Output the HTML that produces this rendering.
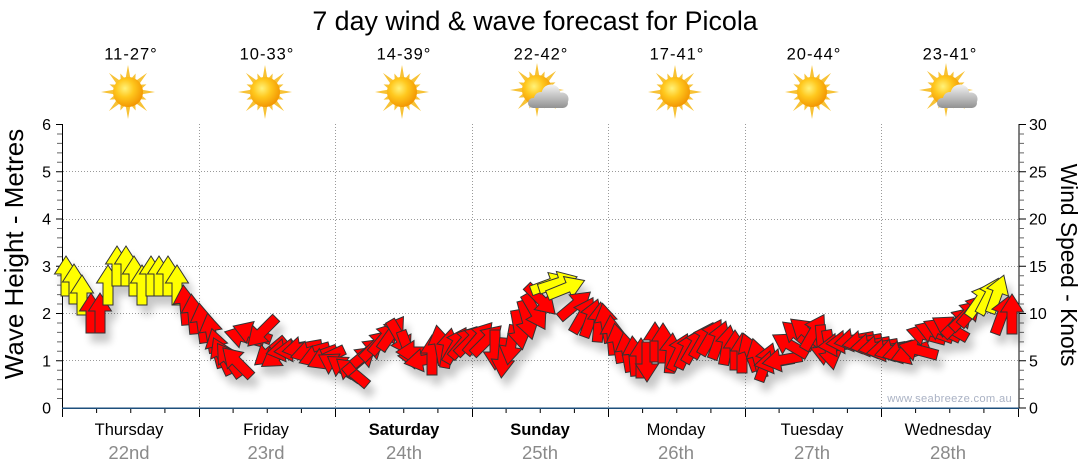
<!DOCTYPE html>
<html><head><meta charset="utf-8"><style>
body{margin:0;background:#fff}
svg{display:block}
text{font-family:"Liberation Sans",sans-serif}
.r{fill:#ff0000}.y{fill:#ffff00}
</style></head><body>
<svg width="1080" height="475" viewBox="0 0 1080 475" xmlns="http://www.w3.org/2000/svg">
<defs>
<radialGradient id="sg" cx="0.4" cy="0.38" r="0.65"><stop offset="0" stop-color="#fff27a"/><stop offset="0.45" stop-color="#ffc81e"/><stop offset="1" stop-color="#f29400"/></radialGradient>
<linearGradient id="cg" gradientUnits="userSpaceOnUse" x1="0" y1="-6" x2="0" y2="19"><stop offset="0" stop-color="#f6f6f6"/><stop offset="1" stop-color="#8e8e8e"/></linearGradient>
<g id="sun"><polygon fill="#f7c236" points="0,-27 2.54,-12.75 7.65,-18.48 7.22,-10.81 19.09,-19.09 10.81,-7.22 18.48,-7.65 12.75,-2.54 27,0 12.75,2.54 18.48,7.65 10.81,7.22 19.09,19.09 7.22,10.81 7.65,18.48 2.54,12.75 0,27 -2.54,12.75 -7.65,18.48 -7.22,10.81 -19.09,19.09 -10.81,7.22 -18.48,7.65 -12.75,2.54 -27,0 -12.75,-2.54 -18.48,-7.65 -10.81,-7.22 -19.09,-19.09 -7.22,-10.81 -7.65,-18.48 -2.54,-12.75"/><circle r="15" fill="url(#sg)"/></g>
<g id="cloud" fill="url(#cg)"><rect x="-9" y="8" width="40" height="10" rx="5"/><circle cx="4" cy="9" r="7"/><circle cx="14" cy="4" r="9.5"/><circle cx="25" cy="9" r="6.5"/></g>
<polygon id="a" points="0,-20 11.5,-2 5,-2 5,20 -5,20 -5,-2 -11.5,-2"/>
<filter id="sh" x="-5%" y="-20%" width="115%" height="170%">
<feGaussianBlur in="SourceAlpha" stdDeviation="4"/>
<feOffset dx="5" dy="9"/>
<feComponentTransfer><feFuncA type="linear" slope="0.22"/></feComponentTransfer>
<feMerge><feMergeNode/><feMergeNode in="SourceGraphic"/></feMerge>
</filter>
</defs>

<!-- title -->
<text x="535" y="30" font-size="26.8" text-anchor="middle" fill="#000">7 day wind &amp; wave forecast for Picola</text>

<!-- temps -->
<g font-size="16.5" text-anchor="middle" fill="#000" letter-spacing="1">
<text x="131" y="59.5">11-27°</text>
<text x="267" y="59.5">10-33°</text>
<text x="404" y="59.5">14-39°</text>
<text x="541" y="59.5">22-42°</text>
<text x="677" y="59.5">17-41°</text>
<text x="814" y="59.5">20-44°</text>
<text x="950" y="59.5">23-41°</text>
</g>

<!-- icons -->
<use href="#sun" transform="translate(128,92)"/>
<use href="#sun" transform="translate(265,92)"/>
<use href="#sun" transform="translate(402,92)"/>
<use href="#sun" transform="translate(537,90)"/>
<use href="#cloud" transform="translate(537,90)"/>
<use href="#sun" transform="translate(675,92)"/>
<use href="#sun" transform="translate(812,92)"/>
<use href="#sun" transform="translate(946,90)"/>
<use href="#cloud" transform="translate(946,90)"/>

<!-- grid -->
<g stroke="#9a9a9a" stroke-width="1" stroke-dasharray="1,2" fill="none">
<path d="M63 360.5H1019M63 313.5H1019M63 266.5H1019M63 219.5H1019M63 171.5H1019"/>
<path d="M199.5 124V408M335.5 124V408M472.5 124V408M608.5 124V408M745.5 124V408M881.5 124V408"/>
</g>

<!-- axes -->
<g stroke="#000" stroke-width="1" fill="none">
<path d="M62.5 124V417M1019 124V408"/>
<path d="M56 124.5H63M56 171.75H63M56 219H63M56 266.25H63M56 313.5H63M56 360.75H63M1019 124.5H1026M1019 171.75H1026M1019 219H1026M1019 266.25H1026M1019 313.5H1026M1019 360.75H1026M1019 408H1026"/>
</g>
<g stroke="#666" stroke-width="1" fill="none">
<path d="M57 398.55H62M57 389.1H62M57 379.65H62M57 370.2H62M57 351.3H62M57 341.85H62M57 332.4H62M57 322.95H62M57 304.05H62M57 294.6H62M57 285.15H62M57 275.7H62M57 256.8H62M57 247.35H62M57 237.9H62M57 228.45H62M57 209.55H62M57 200.1H62M57 190.65H62M57 181.2H62M57 162.3H62M57 152.85H62M57 143.4H62M57 133.95H62"/>
<path d="M1019 398.55H1024M1019 389.1H1024M1019 379.65H1024M1019 370.2H1024M1019 351.3H1024M1019 341.85H1024M1019 332.4H1024M1019 322.95H1024M1019 304.05H1024M1019 294.6H1024M1019 285.15H1024M1019 275.7H1024M1019 256.8H1024M1019 247.35H1024M1019 237.9H1024M1019 228.45H1024M1019 209.55H1024M1019 200.1H1024M1019 190.65H1024M1019 181.2H1024M1019 162.3H1024M1019 152.85H1024M1019 143.4H1024M1019 133.95H1024"/>
</g>
<g stroke="#000" stroke-width="1" fill="none">
<path d="M199.5 408V417M335.5 408V417M472.5 408V417M608.5 408V417M745.5 408V417M881.5 408V417M1018.5 408V417"/>
<path d="M96.6 408V413M130.75 408V413M164.9 408V413M233.1 408V413M267.25 408V413M301.4 408V413M369.6 408V413M403.75 408V413M437.9 408V413M506.1 408V413M540.25 408V413M574.4 408V413M642.6 408V413M676.75 408V413M710.9 408V413M779.1 408V413M813.25 408V413M847.4 408V413M915.6 408V413M949.75 408V413M983.9 408V413"/>
</g>
<path d="M62 408.25H1019" stroke="#1d4f7c" stroke-width="1.5"/>

<!-- axis labels -->
<g font-size="16" fill="#000" text-anchor="end">
<text x="51" y="130">6</text><text x="51" y="177.5">5</text><text x="51" y="224.5">4</text><text x="51" y="272">3</text><text x="51" y="319">2</text><text x="51" y="366.5">1</text><text x="51" y="413.5">0</text>
</g>
<g font-size="16" fill="#000">
<text x="1029" y="130">30</text><text x="1029" y="177.5">25</text><text x="1029" y="224.5">20</text><text x="1029" y="272">15</text><text x="1029" y="319">10</text><text x="1029" y="366.5">5</text><text x="1029" y="413.5">0</text>
</g>
<text transform="translate(23,254) rotate(-90)" font-size="26" text-anchor="middle" fill="#000">Wave Height - Metres</text>
<text transform="translate(1061,265) rotate(90)" font-size="22.8" text-anchor="middle" fill="#000">Wind Speed - Knots</text>

<!-- day labels -->
<g font-size="16.5" text-anchor="middle" fill="#000">
<text x="129" y="435">Thursday</text>
<text x="266" y="435">Friday</text>
<text x="404" y="435" font-weight="bold">Saturday</text>
<text x="540" y="435" font-weight="bold">Sunday</text>
<text x="676" y="435">Monday</text>
<text x="812" y="435">Tuesday</text>
<text x="948" y="435">Wednesday</text>
</g>
<g font-size="18.5" text-anchor="middle" fill="#8a8a8a">
<text x="129" y="459">22nd</text>
<text x="266" y="459">23rd</text>
<text x="404" y="459">24th</text>
<text x="540" y="459">25th</text>
<text x="676" y="459">26th</text>
<text x="812" y="459">27th</text>
<text x="948" y="459">28th</text>
</g>

<text x="1012" y="402" font-size="11.2" text-anchor="end" fill="#aab2c4" letter-spacing="0.3">www.seabreeze.com.au</text>

<!-- arrows -->
<g filter="url(#sh)" stroke="#333" stroke-width="1">
<use href="#a" class="y" transform="translate(66,276)"/>
<use href="#a" class="y" transform="translate(74,284)"/>
<use href="#a" class="y" transform="translate(82,295)"/>
<use href="#a" class="r" transform="translate(91,313)"/>
<use href="#a" class="r" transform="translate(100,313)"/>
<use href="#a" class="y" transform="translate(108,285)"/>
<use href="#a" class="y" transform="translate(117,266)"/>
<use href="#a" class="y" transform="translate(126,266)"/>
<use href="#a" class="y" transform="translate(134,276)"/>
<use href="#a" class="y" transform="translate(142,285)"/>
<use href="#a" class="y" transform="translate(151,276)"/>
<use href="#a" class="y" transform="translate(159,276)"/>
<use href="#a" class="y" transform="translate(168,276)"/>
<use href="#a" class="y" transform="translate(177,285)"/>
<use href="#a" class="r" transform="translate(185,305) rotate(-5)"/>
<use href="#a" class="r" transform="translate(193,314) rotate(-5)"/>
<use href="#a" class="r" transform="translate(202,323) rotate(-8)"/>
<use href="#a" class="r" transform="translate(211,333) rotate(-10)"/>
<use href="#a" class="r" transform="translate(217,348) rotate(-15)"/>
<use href="#a" class="r" transform="translate(222,356) rotate(-25)"/>
<use href="#a" class="r" transform="translate(229,360) rotate(-35)"/>
<use href="#a" class="r" transform="translate(237,362) rotate(-45)"/>
<use href="#a" class="r" transform="translate(244,337) rotate(-75)"/>
<use href="#a" class="r" transform="translate(252,333) rotate(-70)"/>
<use href="#a" class="r" transform="translate(262,332) rotate(-135)"/>
<use href="#a" class="r" transform="translate(270,352) rotate(-130)"/>
<use href="#a" class="r" transform="translate(278,355) rotate(-125)"/>
<use href="#a" class="r" transform="translate(286,350) rotate(-100)"/>
<use href="#a" class="r" transform="translate(294,350) rotate(-95)"/>
<use href="#a" class="r" transform="translate(302,348) rotate(-100)"/>
<use href="#a" class="r" transform="translate(310,352) rotate(-105)"/>
<use href="#a" class="r" transform="translate(318,356) rotate(-110)"/>
<use href="#a" class="r" transform="translate(326,358) rotate(-115)"/>
<use href="#a" class="r" transform="translate(336,365) rotate(-60)"/>
<use href="#a" class="r" transform="translate(344,368) rotate(-55)"/>
<use href="#a" class="r" transform="translate(352,372) rotate(-50)"/>
<use href="#a" class="r" transform="translate(360,360) rotate(50)"/>
<use href="#a" class="r" transform="translate(368,352) rotate(50)"/>
<use href="#a" class="r" transform="translate(376,345) rotate(45)"/>
<use href="#a" class="r" transform="translate(384,338) rotate(40)"/>
<use href="#a" class="r" transform="translate(392,333) rotate(35)"/>
<use href="#a" class="r" transform="translate(400,338) rotate(150)"/>
<use href="#a" class="r" transform="translate(408,350) rotate(160)"/>
<use href="#a" class="r" transform="translate(416,352) rotate(-90)"/>
<use href="#a" class="r" transform="translate(424,360) rotate(-100)"/>
<use href="#a" class="r" transform="translate(432,355)"/>
<use href="#a" class="r" transform="translate(440,345) rotate(-10)"/>
<use href="#a" class="r" transform="translate(448,348) rotate(10)"/>
<use href="#a" class="r" transform="translate(456,345) rotate(30)"/>
<use href="#a" class="r" transform="translate(464,342) rotate(40)"/>
<use href="#a" class="r" transform="translate(471,340) rotate(45)"/>
<use href="#a" class="r" transform="translate(479,338) rotate(40)"/>
<use href="#a" class="r" transform="translate(487,340) rotate(45)"/>
<use href="#a" class="r" transform="translate(495,350) rotate(180)"/>
<use href="#a" class="r" transform="translate(503,358) rotate(185)"/>
<use href="#a" class="r" transform="translate(511,345) rotate(190)"/>
<use href="#a" class="r" transform="translate(519,330) rotate(170)"/>
<use href="#a" class="r" transform="translate(527,320) rotate(165)"/>
<use href="#a" class="r" transform="translate(535,312) rotate(150)"/>
<use href="#a" class="r" transform="translate(541,300) rotate(135)"/>
<use href="#a" class="y" transform="translate(550,284) rotate(70)"/>
<use href="#a" class="y" transform="translate(558,283) rotate(72)"/>
<use href="#a" class="y" transform="translate(566,288) rotate(68)"/>
<use href="#a" class="r" transform="translate(575,305) rotate(50)"/>
<use href="#a" class="r" transform="translate(583,315) rotate(30)"/>
<use href="#a" class="r" transform="translate(591,318) rotate(20)"/>
<use href="#a" class="r" transform="translate(599,322) rotate(5)"/>
<use href="#a" class="r" transform="translate(606,323) rotate(-10)"/>
<use href="#a" class="r" transform="translate(612,335) rotate(-5)"/>
<use href="#a" class="r" transform="translate(618,343) rotate(-10)"/>
<use href="#a" class="r" transform="translate(627,352) rotate(-10)"/>
<use href="#a" class="r" transform="translate(634,356) rotate(-5)"/>
<use href="#a" class="r" transform="translate(641,358)"/>
<use href="#a" class="r" transform="translate(647,362) rotate(180)"/>
<use href="#a" class="r" transform="translate(655,342)"/>
<use href="#a" class="r" transform="translate(663,343)"/>
<use href="#a" class="r" transform="translate(671,353) rotate(5)"/>
<use href="#a" class="r" transform="translate(679,352) rotate(25)"/>
<use href="#a" class="r" transform="translate(687,350) rotate(25)"/>
<use href="#a" class="r" transform="translate(695,345) rotate(30)"/>
<use href="#a" class="r" transform="translate(703,340) rotate(30)"/>
<use href="#a" class="r" transform="translate(711,337) rotate(30)"/>
<use href="#a" class="r" transform="translate(719,340) rotate(20)"/>
<use href="#a" class="r" transform="translate(727,345) rotate(10)"/>
<use href="#a" class="r" transform="translate(735,350)"/>
<use href="#a" class="r" transform="translate(742,353)"/>
<use href="#a" class="r" transform="translate(750,352) rotate(-20)"/>
<use href="#a" class="r" transform="translate(758,358) rotate(-15)"/>
<use href="#a" class="r" transform="translate(766,362) rotate(20)"/>
<use href="#a" class="r" transform="translate(774,362) rotate(-100)"/>
<use href="#a" class="r" transform="translate(782,360) rotate(-100)"/>
<use href="#a" class="r" transform="translate(790,345) rotate(-60)"/>
<use href="#a" class="r" transform="translate(798,335) rotate(-50)"/>
<use href="#a" class="r" transform="translate(806,332) rotate(-50)"/>
<use href="#a" class="r" transform="translate(814,332) rotate(30)"/>
<use href="#a" class="r" transform="translate(822,345) rotate(175)"/>
<use href="#a" class="r" transform="translate(830,350) rotate(170)"/>
<use href="#a" class="r" transform="translate(838,345) rotate(-95)"/>
<use href="#a" class="r" transform="translate(846,342) rotate(-95)"/>
<use href="#a" class="r" transform="translate(854,340) rotate(-100)"/>
<use href="#a" class="r" transform="translate(862,342) rotate(-100)"/>
<use href="#a" class="r" transform="translate(870,345) rotate(-100)"/>
<use href="#a" class="r" transform="translate(878,347) rotate(-100)"/>
<use href="#a" class="r" transform="translate(886,350) rotate(-100)"/>
<use href="#a" class="r" transform="translate(894,350) rotate(-105)"/>
<use href="#a" class="r" transform="translate(902,352) rotate(-105)"/>
<use href="#a" class="r" transform="translate(910,353) rotate(-110)"/>
<use href="#a" class="r" transform="translate(918,350) rotate(-75)"/>
<use href="#a" class="r" transform="translate(926,335) rotate(-75)"/>
<use href="#a" class="r" transform="translate(934,332) rotate(-70)"/>
<use href="#a" class="r" transform="translate(942,330) rotate(-65)"/>
<use href="#a" class="r" transform="translate(950,328) rotate(-60)"/>
<use href="#a" class="r" transform="translate(958,322) rotate(45)"/>
<use href="#a" class="r" transform="translate(966,315) rotate(45)"/>
<use href="#a" class="r" transform="translate(973,310) rotate(40)"/>
<use href="#a" class="y" transform="translate(980,300) rotate(35)"/>
<use href="#a" class="y" transform="translate(989,296) rotate(28)"/>
<use href="#a" class="y" transform="translate(997,294) rotate(20)"/>
<use href="#a" class="r" transform="translate(1002,315) rotate(20)"/>
<use href="#a" class="r" transform="translate(1012,314)"/>
</g>
</svg>
</body></html>
